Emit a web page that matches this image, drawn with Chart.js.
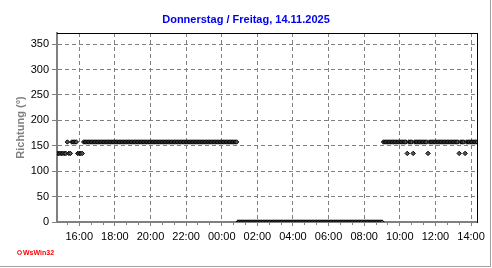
<!DOCTYPE html>
<html>
<head>
<meta charset="utf-8">
<script src="https://cdn.jsdelivr.net/npm/chart.js@4.4.1/dist/chart.umd.min.js"></script>
<style>
  html, body { margin: 0; padding: 0; background: #fff; }
  #wrap { position: relative; width: 492px; height: 268px; overflow: hidden; }
  #frame { position: absolute; left: 0; top: 0; width: 490px; height: 266px;
           border-right: 1px solid #a0a0a0; border-bottom: 1px solid #a0a0a0; }
  canvas { position: absolute; left: 0; top: 0; }
  #title { position: absolute; left: 0; top: 12px; width: 492px; text-align: center;
           font: bold 11px "Liberation Sans", Arial, sans-serif; line-height: 14px; color: #0000ee; }
  #logo { position: absolute; left: 23px; top: 248px; font: bold 7px "Liberation Sans", Arial, sans-serif;
          line-height: 9px; color: #ff0000; }
  #icon { position: absolute; left: 17px; top: 250px; width: 3px; height: 3px; border: 1px solid #ff0000;
          border-radius: 50%; background: #fff; }
</style>
</head>
<body>
<div id="wrap">
  <div id="frame"></div>
  <canvas id="c" width="492" height="268"></canvas>
  <div id="title">Donnerstag / Freitag, 14.11.2025</div>
  <div id="icon"></div>
  <div id="logo">WsWin32</div>
</div>
<script>
// ---- Data ----
const timeLabels = [
  "14:45","14:50","14:55",
  "15:00","15:05","15:10","15:15","15:20","15:25","15:30","15:35","15:40","15:45","15:50","15:55",
  "16:00","16:05","16:10","16:15","16:20","16:25","16:30","16:35","16:40","16:45","16:50","16:55",
  "17:00","17:05","17:10","17:15","17:20","17:25","17:30","17:35","17:40","17:45","17:50","17:55",
  "18:00","18:05","18:10","18:15","18:20","18:25","18:30","18:35","18:40","18:45","18:50","18:55",
  "19:00","19:05","19:10","19:15","19:20","19:25","19:30","19:35","19:40","19:45","19:50","19:55",
  "20:00","20:05","20:10","20:15","20:20","20:25","20:30","20:35","20:40","20:45","20:50","20:55",
  "21:00","21:05","21:10","21:15","21:20","21:25","21:30","21:35","21:40","21:45","21:50","21:55",
  "22:00","22:05","22:10","22:15","22:20","22:25","22:30","22:35","22:40","22:45","22:50","22:55",
  "23:00","23:05","23:10","23:15","23:20","23:25","23:30","23:35","23:40","23:45","23:50","23:55",
  "00:00","00:05","00:10","00:15","00:20","00:25","00:30","00:35","00:40","00:45","00:50","00:55",
  "01:00","01:05","01:10","01:15","01:20","01:25","01:30","01:35","01:40","01:45","01:50","01:55",
  "02:00","02:05","02:10","02:15","02:20","02:25","02:30","02:35","02:40","02:45","02:50","02:55",
  "03:00","03:05","03:10","03:15","03:20","03:25","03:30","03:35","03:40","03:45","03:50","03:55",
  "04:00","04:05","04:10","04:15","04:20","04:25","04:30","04:35","04:40","04:45","04:50","04:55",
  "05:00","05:05","05:10","05:15","05:20","05:25","05:30","05:35","05:40","05:45","05:50","05:55",
  "06:00","06:05","06:10","06:15","06:20","06:25","06:30","06:35","06:40","06:45","06:50","06:55",
  "07:00","07:05","07:10","07:15","07:20","07:25","07:30","07:35","07:40","07:45","07:50","07:55",
  "08:00","08:05","08:10","08:15","08:20","08:25","08:30","08:35","08:40","08:45","08:50","08:55",
  "09:00","09:05","09:10","09:15","09:20","09:25","09:30","09:35","09:40","09:45","09:50","09:55",
  "10:00","10:05","10:10","10:15","10:20","10:25","10:30","10:35","10:40","10:45","10:50","10:55",
  "11:00","11:05","11:10","11:15","11:20","11:25","11:30","11:35","11:40","11:45","11:50","11:55",
  "12:00","12:05","12:10","12:15","12:20","12:25","12:30","12:35","12:40","12:45","12:50","12:55",
  "13:00","13:05","13:10","13:15","13:20","13:25","13:30","13:35","13:40","13:45","13:50","13:55",
  "14:00","14:05","14:10","14:15","14:20"
];

// wind direction in degrees
const direction = [
  135,135,135,
  135,135,135,135,157.5,135,135,157.5,157.5,157.5,157.5,135,
  135,135,135,157.5,157.5,157.5,157.5,157.5,157.5,157.5,157.5,157.5,
  157.5,157.5,157.5,157.5,157.5,157.5,157.5,157.5,157.5,157.5,157.5,157.5,
  157.5,157.5,157.5,157.5,157.5,157.5,157.5,157.5,157.5,157.5,157.5,157.5,
  157.5,157.5,157.5,157.5,157.5,157.5,157.5,157.5,157.5,157.5,157.5,157.5,
  157.5,157.5,157.5,157.5,157.5,157.5,157.5,157.5,157.5,157.5,157.5,157.5,
  157.5,157.5,157.5,157.5,157.5,157.5,157.5,157.5,157.5,157.5,157.5,157.5,
  157.5,157.5,157.5,157.5,157.5,157.5,157.5,157.5,157.5,157.5,157.5,157.5,
  157.5,157.5,157.5,157.5,157.5,157.5,157.5,157.5,157.5,157.5,157.5,157.5,
  157.5,157.5,157.5,157.5,157.5,157.5,157.5,157.5,157.5,157.5,157.5,0,
  0,0,0,0,0,0,0,0,0,0,0,0,
  0,0,0,0,0,0,0,0,0,0,0,0,
  0,0,0,0,0,0,0,0,0,0,0,0,
  0,0,0,0,0,0,0,0,0,0,0,0,
  0,0,0,0,0,0,0,0,0,0,0,0,
  0,0,0,0,0,0,0,0,0,0,0,0,
  0,0,0,0,0,0,0,0,0,0,0,0,
  0,0,0,0,0,0,0,0,0,0,0,0,
  0,157.5,157.5,157.5,157.5,157.5,157.5,157.5,157.5,157.5,157.5,157.5,
  157.5,157.5,157.5,157.5,157.5,135,157.5,157.5,157.5,135,157.5,157.5,
  157.5,157.5,157.5,157.5,157.5,157.5,157.5,135,157.5,157.5,157.5,157.5,
  157.5,157.5,157.5,157.5,157.5,157.5,157.5,157.5,157.5,157.5,157.5,157.5,
  157.5,157.5,157.5,157.5,135,157.5,157.5,157.5,135,157.5,157.5,157.5,
  157.5,157.5,157.5,157.5,157.5
];

const xTickLabels = ["16:00","18:00","20:00","22:00","00:00","02:00","04:00","06:00","08:00","10:00","12:00","14:00"];
const xMinorTickLabels = ["15:20","16:00","16:40","17:20","18:00","18:40","19:20","20:00","20:40","21:20","22:00","22:40",
  "23:20","00:00","00:40","01:20","02:00","02:40","03:20","04:00","04:40","05:20","06:00","06:40","07:20","08:00",
  "08:40","09:20","10:00","10:40","11:20","12:00","12:40","13:20","14:00"];
const yTicks = [0,50,100,150,200,250,300,350];
const yMax = 372;

// ---- Chart ----
Chart.defaults.font.family = '"Liberation Sans", Arial, sans-serif';
Chart.defaults.font.size = 11;
Chart.defaults.color = '#000';

new Chart(document.getElementById('c'), {
  type: 'line',
  data: {
    labels: timeLabels,
    datasets: [{
      label: 'Richtung',
      data: direction,
      showLine: false,
      pointStyle: 'rectRot',
      pointRadius: 2.2,
      pointBorderWidth: 1,
      pointBackgroundColor: '#555555',
      pointBorderColor: '#000',
      clip: 0
    }]
  },
  options: {
    responsive: false,
    animation: false,
    layout: { padding: 0 },
    plugins: { legend: { display: false }, tooltip: { enabled: false }, title: { display: false } },
    scales: {
      x: {
        type: 'category',
        position: 'bottom',
        offset: false,
        weight: 1,
        afterFit: s => { s.height = 46; },
        afterBuildTicks: s => { s.ticks = xTickLabels.map(l => ({ value: timeLabels.indexOf(l) })); },
        ticks: { autoSkip: false, maxRotation: 0, minRotation: 0, padding: 4, color: '#000' },
        grid: { color: '#808080', tickLength: 4, tickColor: '#808080', tickBorderDash: [] },
        border: { display: true, color: '#808080', width: 2, dash: [4, 3] }
      },
      xMinor: {
        type: 'category',
        labels: timeLabels,
        position: 'bottom',
        offset: false,
        weight: 0,
        afterFit: s => { s.height = 0; },
        afterBuildTicks: s => { s.ticks = xMinorTickLabels.map(l => ({ value: timeLabels.indexOf(l) })); },
        ticks: { display: false, autoSkip: false },
        grid: { drawOnChartArea: false, tickLength: 3, tickColor: '#808080', tickBorderDash: [] },
        border: { display: false }
      },
      y: {
        type: 'linear',
        position: 'left',
        min: 0,
        max: yMax,
        weight: 1,
        afterFit: s => { s.width = 57; },
        afterBuildTicks: s => { s.ticks = yTicks.map(v => ({ value: v })); },
        ticks: { padding: 3, color: '#000' },
        grid: { color: '#808080', tickLength: 5, tickColor: '#808080', tickBorderDash: [] },
        border: { display: true, color: '#808080', width: 2, dash: [4, 3] },
        title: { display: true, text: 'Richtung (°)', color: '#808080',
                 font: { weight: 'bold', size: 11 }, padding: { top: 14, bottom: 0 } }
      },
      xTop: {
        type: 'linear', position: 'top', min: 0, max: 1,
        afterFit: s => { s.height = 33; },
        ticks: { display: false },
        grid: { display: false, drawTicks: false },
        border: { display: true, color: '#000', width: 1 }
      },
      yRight: {
        type: 'linear', position: 'right', min: 0, max: 1,
        afterFit: s => { s.width = 15; },
        ticks: { display: false },
        grid: { display: false, drawTicks: false },
        border: { display: true, color: '#000', width: 1 }
      }
    }
  }
});
</script>
</body>
</html>
